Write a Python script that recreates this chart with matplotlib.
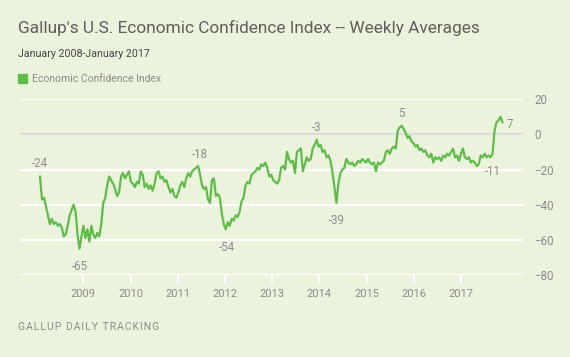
import numpy as np
import matplotlib
matplotlib.use("Agg")
import matplotlib.pyplot as plt
from matplotlib.patches import Patch

# ── Data (biweekly readings, Jan 2008 - Jan 2017) ─────────────────────────────

eci_2008 = [-24, -37, -36, -41, -46, -51, -48, -51, -50, -52, -51, -53, -58,
            -57, -52, -46, -43, -40, -44, -57, -65, -58, -52, -59, -54, -61]
eci_2009 = [-52, -57, -59, -56, -58, -51, -39, -36, -29, -24, -26, -28, -31,
            -35, -33, -24, -22, -25, -23, -21, -27, -28, -30, -27, -28, -21]
eci_2010 = [-23, -30, -28, -31, -29, -32, -28, -22, -21, -25, -24, -27, -26,
            -30, -33, -31, -35, -36, -33, -29, -27, -30, -25, -22, -24, -21]
eci_2011 = [-20, -19, -18, -23, -29, -31, -30, -37, -39, -26, -25, -35, -34,
            -36, -45, -51, -54, -50, -52, -48, -49, -46, -47, -44, -38, -36]
eci_2012 = [-29, -27, -28, -23, -22, -21, -19, -20, -17, -18, -16, -19, -24,
            -23, -26, -27, -28, -26, -19, -18, -20, -10, -14, -16, -15, -22]
eci_2013 = [-10, -9, -8, -21, -17, -13, -15, -14, -8, -6, -3, -7, -6,
            -10, -9, -13, -12, -15, -22, -30, -39, -28, -22, -20, -19, -14]
eci_2014 = [-16, -17, -16, -18, -17, -15, -16, -14, -15, -16, -14, -16, -17,
            -16, -21, -16, -17, -16, -15, -10, -9, -11, -8, -7, -8, 2]
eci_2015 = [4, 5, 3, 1, -2, -1, -4, -5, -7, -6, -9, -8, -10,
            -9, -12, -13, -11, -16, -13, -14, -13, -15, -12, -13, -11, -12]
eci_2016 = [-10, -8, -13, -12, -15, -11, -8, -13, -14, -13, -16, -15, -16,
            -18, -17, -12, -13, -11, -13, -12, -13, -11, 2, 7, 8, 10, 7]

values = np.array(eci_2008 + eci_2009 + eci_2010 + eci_2011 + eci_2012
                  + eci_2013 + eci_2014 + eci_2015 + eci_2016, dtype=float)
years = 2008.0 + np.arange(len(values)) * 14.0 / 365.25

# index of each labelled point and its label offset (points)
callouts = [
    (0, (0, 9.4)),
    (20, (0, -12.5)),
    (80, (1, 8.6)),
    (94, (1, -13.2)),
    (140, (0, 8.6)),
    (150, (0, -12.3)),
    (183, (0, 9.0)),
    (229, (0, -12.5)),
    (len(values) - 1, (5.5, -1.4)),
]

x_tick_labels = ["2009", "2010", "2011", "2012", "2013", "2014", "2015", "2016", "2017"]
y_ticks = [20, 0, -20, -40, -60, -80]

# ── Style ────────────────────────────────────────────────────────────────────

BG = "#ecf3dd"
GREEN = "#5dbd48"
GREY_TXT = "#8c8c8c"
plt.rcParams["font.family"] = ["Roboto", "DejaVu Sans"]

fig = plt.figure(figsize=(5.7, 3.57), dpi=100, facecolor=BG)
ax = fig.add_axes([20 / 570, 1 - 275 / 357, 503 / 570, 175.7 / 357])
ax.set_facecolor(BG)

for yv in y_ticks:
    ax.axhline(yv, color="#dcdcdc" if yv == 0 else "white", lw=1.6, zorder=1)

ax.plot(years, values, color=GREEN, lw=1.6, zorder=3, solid_joinstyle="round")

for idx, off in callouts:
    v = values[idx]
    ax.annotate(f"{v:g}", xy=(years[idx], v), xytext=off, textcoords="offset points",
                ha="center", va="center", fontsize=8.3, color=GREY_TXT)

tick_pos = 2008.84 + 0.9155 * np.arange(len(x_tick_labels))
ax.set_xticks(tick_pos)
ax.set_xticklabels(x_tick_labels)
ax.set_xlim(2007.612, 2017.368)
ax.set_ylim(-80, 20)
ax.set_yticks(y_ticks)
ax.yaxis.tick_right()
ax.tick_params(axis="x", length=5.8, width=1.5, color="white", pad=4,
               labelsize=8, labelcolor=GREY_TXT)
ax.tick_params(axis="y", length=0, pad=8, labelsize=8.3, labelcolor=GREY_TXT)
for s in ax.spines.values():
    s.set_visible(False)

fig.text(18 / 570, 1 - 27.7 / 357, "Gallup's U.S. Economic Confidence Index -- Weekly Averages",
         fontsize=12.4, color="#5e5e5e", va="center", ha="left")
fig.text(18 / 570, 1 - 54.3 / 357, "January 2008-January 2017",
         fontsize=7.7, color="#444444", va="center", ha="left")
fig.legend(handles=[Patch(color=GREEN, label="Economic Confidence Index")],
           loc="upper left", bbox_to_anchor=(17.5 / 570, 1 - 74 / 357),
           frameon=False, fontsize=7.5, labelcolor="#8a8a8a",
           handlelength=0.95, handleheight=0.95, handletextpad=0.45,
           borderpad=0, borderaxespad=0)
footer = "\u200a".join("GALLUP DAILY TRACKING")
fig.text(18 / 570, 1 - 327 / 357, footer,
         fontsize=7.5, color=GREY_TXT, va="center", ha="left")

fig.savefig("out.png", dpi=100, facecolor=BG)
